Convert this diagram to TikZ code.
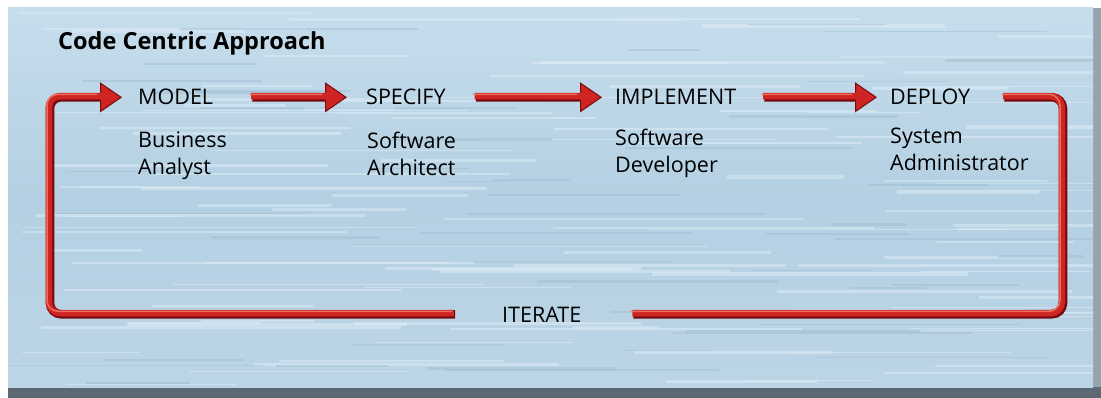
\documentclass[tikz,border=0pt]{standalone}
\usepackage{fontspec}
\usepackage{tikz}
\usetikzlibrary{arrows.meta}
\setmainfont{Open Sans}
\definecolor{paneltop}{RGB}{198,221,236}
\definecolor{panelblue}{RGB}{180,208,226}
\definecolor{panelbottom}{RGB}{188,213,230}
\definecolor{panelstreak}{RGB}{220,235,245}
\definecolor{paneldark}{RGB}{158,188,208}
\definecolor{shadowgrey}{RGB}{92,104,114}
\definecolor{shadowlight}{RGB}{150,164,174}
\definecolor{tubedark}{RGB}{120,10,16}
\definecolor{tubered}{RGB}{206,36,34}
\definecolor{tubelight}{RGB}{240,130,110}

\begin{document}
\begin{tikzpicture}[x=1pt,y=-1pt]
\tikzstyle{every node}+=[inner sep=0pt]
\tikzstyle{steplabel}=[font=\fontsize{21.5}{27}\selectfont, anchor=base west]
\tikzstyle{rolelabel}=[font=\fontsize{21.5}{27}\selectfont, anchor=north west, align=left]
\tikzstyle{tube}=[line width=8.5pt, draw=tubedark, rounded corners=11pt,
  postaction={draw=tubered, line width=6.5pt, transform canvas={shift={(-1.2pt,1.2pt)}}},
  postaction={draw=tubelight, line width=1.5pt, opacity=0.8, transform canvas={shift={(-3pt,3pt)}}}]
\tikzstyle{flow}=[line width=8.5pt, draw=tubedark, rounded corners=11pt,
  -{Triangle[length=22pt,width=30pt,line width=1pt,fill=tubered]},
  postaction={draw=tubered, line width=6.5pt, -, shorten >=18pt, transform canvas={shift={(-1.2pt,1.2pt)}}},
  postaction={draw=tubelight, line width=1.5pt, opacity=0.8, -, shorten >=22pt, transform canvas={shift={(-3pt,3pt)}}}]
\useasboundingbox (0,0) rectangle (1101,398);
\fill[white] (0,0) rectangle (1101,398);
\fill[shadowlight] (8,8) rectangle (1101,398);
\fill[shadowgrey] (8,387) rectangle (1101,398);
\shade[top color=paneltop, bottom color=panelbottom, middle color=panelblue] (8,8) rectangle (1093,387);
\begin{scope}
\clip (8,8) rectangle (1093,387);
\pgfmathsetseed{17}
\foreach \k in {1,...,110}{
  \pgfmathsetmacro{\sy}{10+rnd*375}
  \pgfmathsetmacro{\sx}{rnd*1000}
  \pgfmathsetmacro{\sl}{80+rnd*320}
  \pgfmathsetmacro{\sw}{0.8+rnd*2.6}
  \draw[panelstreak, opacity=0.55, line width=\sw pt] (\sx,\sy) -- ++(\sl,0);
}
\foreach \k in {1,...,50}{
  \pgfmathsetmacro{\sy}{10+rnd*375}
  \pgfmathsetmacro{\sx}{rnd*1000}
  \pgfmathsetmacro{\sl}{60+rnd*260}
  \pgfmathsetmacro{\sw}{0.8+rnd*2}
  \draw[paneldark, opacity=0.45, line width=\sw pt] (\sx,\sy) -- ++(\sl,0);
}
\end{scope}
\node[font=\bfseries\fontsize{23.5}{28}\selectfont, anchor=base west] (title) at (58,50) {Code Centric Approach};
\node[steplabel] (model) at (138,105) {MODEL};
\node[steplabel] (specify) at (366,105) {SPECIFY};
\node[steplabel] (implement) at (615,105) {IMPLEMENT};
\node[steplabel] (deploy) at (890,105) {DEPLOY};
\node[steplabel] (iterate) at (502,322) {ITERATE};
\node[rolelabel] (analyst) at (138,132) {Business\\Analyst};
\node[rolelabel] (architect) at (367,132) {Software\\Architect};
\node[rolelabel] (developer) at (615,129) {Software\\Developer};
\node[rolelabel] (admin) at (890,128) {System\\Administrator};
\coordinate (leftturn) at (50,0);
\coordinate (rightturn) at (1063,0);
\draw[flow] ([xshift=39pt]model.east) -- ([xshift=-19pt]specify.west);
\draw[flow] ([xshift=30pt]specify.east) -- ([xshift=-13pt]implement.west);
\draw[flow] ([xshift=28pt]implement.east) -- ([xshift=-13pt]deploy.west);
\draw[tube] ([xshift=34pt]deploy.east) -| (rightturn |- iterate) -- ([xshift=52pt]iterate.east);
\draw[flow] ([xshift=-47pt]iterate.west) -| (leftturn |- model) -- ([xshift=-16pt]model.west);
\end{tikzpicture}
\end{document}
